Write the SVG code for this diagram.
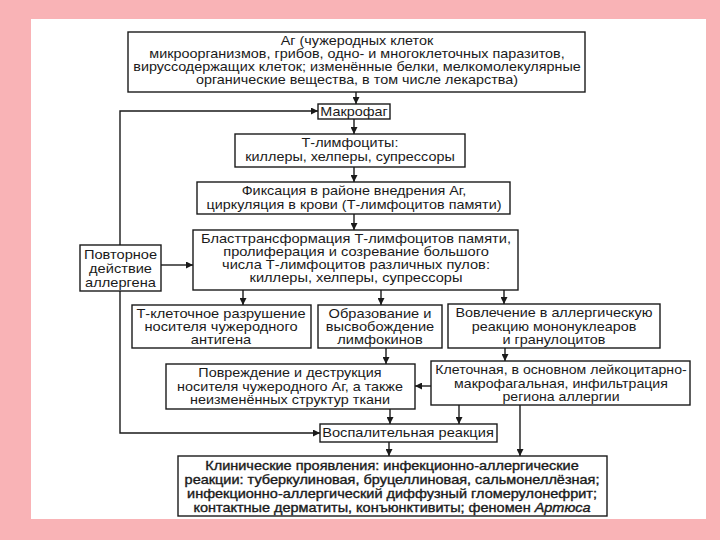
<svg xmlns="http://www.w3.org/2000/svg" width="720" height="540" viewBox="0 0 720 540">
<defs>
<style>
.bx{fill:#fff;stroke:#1a1a1a;stroke-width:1.4}
.ln{fill:none;stroke:#1a1a1a;stroke-width:1.4}
text{font-family:"Liberation Sans",Arial,sans-serif;font-size:12.5px;fill:#1a1a1a;text-anchor:middle}
.hv text{stroke:#1a1a1a;stroke-width:0.35}
</style>
<marker id="ah" viewBox="0 0 10 10" refX="10" refY="5" markerWidth="7" markerHeight="7" markerUnits="userSpaceOnUse" orient="auto">
<path d="M0,0 L10,5 L0,10 z" fill="#1a1a1a"/>
</marker>
</defs>
<rect x="0" y="0" width="720" height="540" fill="#f9b3b6"/>
<rect x="31" y="19" width="675" height="500" fill="#fff"/>

<g id="connectors">
<line class="ln" x1="356" y1="92" x2="356" y2="104" marker-end="url(#ah)"/>
<polyline class="ln" points="120,245 120,111 318,111" marker-end="url(#ah)"/>
<polyline class="ln" points="120,291 120,433 320,433" marker-end="url(#ah)"/>
<line class="ln" x1="354" y1="119" x2="354" y2="134" marker-end="url(#ah)"/>
<line class="ln" x1="354" y1="167" x2="354" y2="182" marker-end="url(#ah)"/>
<line class="ln" x1="354" y1="214" x2="354" y2="230" marker-end="url(#ah)"/>
<line class="ln" x1="161" y1="265" x2="193" y2="265" marker-end="url(#ah)"/>
<line class="ln" x1="243" y1="290" x2="243" y2="305" marker-end="url(#ah)"/>
<line class="ln" x1="381" y1="290" x2="381" y2="305" marker-end="url(#ah)"/>
<line class="ln" x1="504" y1="290" x2="504" y2="304" marker-end="url(#ah)"/>
<line class="ln" x1="386" y1="348" x2="386" y2="364" marker-end="url(#ah)"/>
<line class="ln" x1="505" y1="348" x2="505" y2="361" marker-end="url(#ah)"/>
<line class="ln" x1="431" y1="386" x2="415" y2="386" marker-end="url(#ah)"/>
<line class="ln" x1="390" y1="409" x2="390" y2="424" marker-end="url(#ah)"/>
<line class="ln" x1="459" y1="405" x2="459" y2="424" marker-end="url(#ah)"/>
<line class="ln" x1="389" y1="442" x2="389" y2="456" marker-end="url(#ah)"/>
<line class="ln" x1="520" y1="405" x2="520" y2="456" marker-end="url(#ah)"/>
</g>

<g id="antigen">
<rect class="bx" x="128" y="32" width="457" height="60"/>
<text transform="translate(357,45) scale(1.15,1)">Аг (чужеродных клеток</text>
<text transform="translate(357,58) scale(1.15,1)">микроорганизмов, грибов, одно- и многоклеточных паразитов,</text>
<text transform="translate(357,71) scale(1.15,1)">вирусcодержащих клеток; изменённые белки, мелкомолекулярные</text>
<text transform="translate(357,84) scale(1.15,1)">органические вещества, в том числе лекарства)</text>
</g>

<g id="macrophage">
<rect class="bx" x="318" y="104" width="72" height="15"/>
<text transform="translate(354,116) scale(1.15,1)">Макрофаг</text>
</g>

<g id="tlymph">
<rect class="bx" x="235" y="134" width="230" height="33"/>
<text transform="translate(350,147) scale(1.15,1)">Т-лимфоциты:</text>
<text transform="translate(350,161) scale(1.15,1)">киллеры, хелперы, супрессоры</text>
</g>

<g id="fixation">
<rect class="bx" x="197" y="182" width="313" height="32"/>
<text transform="translate(354,195) scale(1.15,1)">Фиксация в районе внедрения Аг,</text>
<text transform="translate(354,209) scale(1.15,1)">циркуляция в крови (Т-лимфоцитов памяти)</text>
</g>

<g id="blast">
<rect class="bx" x="193" y="230" width="325" height="60"/>
<text transform="translate(356,243) scale(1.17,1)">Бласттрансформация Т-лимфоцитов памяти,</text>
<text transform="translate(356,256) scale(1.17,1)">пролиферация и созревание большого</text>
<text transform="translate(356,269) scale(1.17,1)">числа Т-лимфоцитов различных пулов:</text>
<text transform="translate(356,282) scale(1.17,1)">киллеры, хелперы, супрессоры</text>
</g>

<g id="repeat">
<rect class="bx" x="80" y="245" width="81" height="46"/>
<text transform="translate(120.5,259) scale(1.17,1)">Повторное</text>
<text transform="translate(120.5,273) scale(1.17,1)">действие</text>
<text transform="translate(120.5,287) scale(1.17,1)">аллергена</text>
</g>

<g id="tcell">
<rect class="bx" x="132" y="305" width="179" height="43"/>
<text transform="translate(221,318) scale(1.17,1)">Т-клеточное разрушение</text>
<text transform="translate(221,331) scale(1.17,1)">носителя чужеродного</text>
<text transform="translate(221,344) scale(1.17,1)">антигена</text>
</g>

<g id="lymphokines">
<rect class="bx" x="318" y="305" width="124" height="43"/>
<text transform="translate(380,318) scale(1.17,1)">Образование и</text>
<text transform="translate(380,331) scale(1.17,1)">высвобождение</text>
<text transform="translate(380,344) scale(1.17,1)">лимфокинов</text>
</g>

<g id="involvement">
<rect class="bx" x="448" y="304" width="212" height="44"/>
<text transform="translate(554,317) scale(1.15,1)">Вовлечение в аллергическую</text>
<text transform="translate(554,331) scale(1.15,1)">реакцию мононуклеаров</text>
<text transform="translate(554,344) scale(1.15,1)">и гранулоцитов</text>
</g>

<g id="damage">
<rect class="bx" x="166" y="364" width="249" height="45"/>
<text transform="translate(290,377) scale(1.15,1)">Повреждение и деструкция</text>
<text transform="translate(290,391) scale(1.15,1)">носителя чужеродного Аг, а также</text>
<text transform="translate(290,404) scale(1.15,1)">неизменённых структур ткани</text>
</g>

<g id="infiltration">
<rect class="bx" x="431" y="361" width="259" height="44"/>
<text transform="translate(561,374) scale(1.13,1)">Клеточная, в основном лейкоцитарно-</text>
<text transform="translate(561,388) scale(1.13,1)">макрофагальная, инфильтрация</text>
<text transform="translate(561,401) scale(1.13,1)">региона аллергии</text>
</g>

<g id="inflammation">
<rect class="bx" x="320" y="424" width="177" height="18"/>
<text transform="translate(408,437) scale(1.17,1)">Воспалительная реакция</text>
</g>

<g id="clinical" class="hv">
<rect class="bx" x="178" y="456" width="429" height="60"/>
<text transform="translate(392,470) scale(1.16,1)">Клинические проявления: инфекционно-аллергические</text>
<text transform="translate(392,484) scale(1.16,1)">реакции: туберкулиновая, бруцеллиновая, сальмонеллёзная;</text>
<text transform="translate(392,498) scale(1.16,1)">инфекционно-аллергический диффузный гломерулонефрит;</text>
<text transform="translate(392,512) scale(1.16,1)">контактные дерматиты, конъюнктивиты; феномен <tspan font-style="italic">Артюса</tspan></text>
</g>
</svg>
